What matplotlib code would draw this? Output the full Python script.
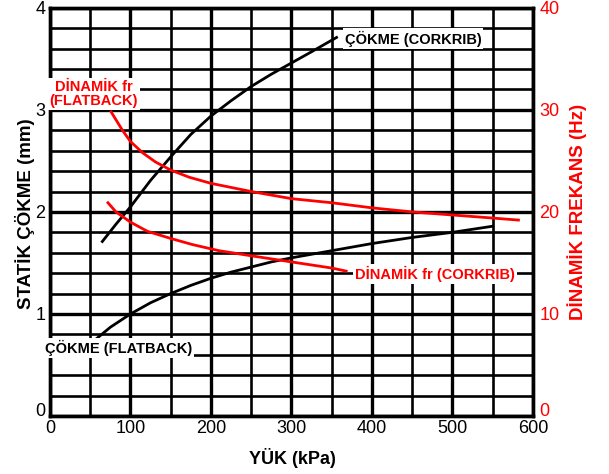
import matplotlib
matplotlib.use("Agg")
import matplotlib.pyplot as plt
import numpy as np

plt.rcParams['font.family'] = ['Liberation Sans', 'DejaVu Sans']

# yuk (kPa) ve cokme (mm) - CORKRIB
yuk_ck = [65, 82, 100, 125, 150, 175, 200, 225, 250, 275, 300, 325, 356]
cokme_ck = [1.71, 1.88, 2.05, 2.31, 2.54, 2.76, 2.94, 3.09, 3.23, 3.35, 3.46, 3.57, 3.71]

# FLATBACK cokme
yuk_fb = [52, 75, 100, 125, 150, 175, 200, 225, 250, 275, 300, 350, 400, 450, 500, 550]
cokme_fb = [0.72, 0.87, 1.00, 1.11, 1.20, 1.28, 1.35, 1.41, 1.46, 1.51, 1.55, 1.62, 1.69, 1.75, 1.80, 1.86]

# dinamik frekans (Hz) - FLATBACK
yuk_dfb = [76, 90, 100, 115, 131, 150, 173, 200, 225, 250, 300, 350, 400, 450, 500, 550, 582]
frek_fb = [29.8, 28.0, 26.9, 25.8, 24.9, 24.1, 23.4, 22.8, 22.4, 22.0, 21.3, 20.9, 20.4, 20.0, 19.7, 19.4, 19.2]

# dinamik frekans (Hz) - CORKRIB
yuk_dck = [72, 82, 100, 121, 150, 177, 210, 250, 300, 350, 368]
frek_ck = [20.9, 20.0, 19.0, 18.1, 17.4, 16.8, 16.2, 15.7, 15.1, 14.5, 14.2]

fig = plt.figure(figsize=(6.09, 4.74), dpi=100)
ax = fig.add_axes([0.0821, 0.1224, 0.793, 0.861])
ax2 = ax.twinx()

ax.set_xlim(0, 600)
ax.set_ylim(0, 4)
ax2.set_ylim(0, 40)

ax.set_xticks(np.arange(0, 601, 100))
ax.set_xticks(np.arange(0, 601, 50), minor=True)
ax.set_yticks(np.arange(0, 5, 1))
ax.set_yticks(np.arange(0, 4.01, 0.2), minor=True)
ax2.set_yticks(np.arange(0, 41, 10))

ax.grid(which='major', color='black', lw=2.4)
ax.grid(which='minor', color='black', lw=1.9)
ax.set_axisbelow(True)
for a in (ax, ax2):
    for s in a.spines.values():
        s.set_linewidth(2.4)

ax.tick_params(axis='x', which='both', length=0, labelsize=13, pad=3)
ax.tick_params(axis='y', which='both', length=0, labelsize=13, pad=3.5)
ax2.tick_params(which='both', length=0, labelsize=13, pad=4.5, labelcolor='red')

# alt "0" etiketleri cizginin ustunde
ax.yaxis.get_major_ticks()[0].label1.set_va('baseline')
ax2.yaxis.get_major_ticks()[0].label2.set_va('baseline')

ax.plot(yuk_ck, cokme_ck, color='black', lw=2)
ax.plot(yuk_fb, cokme_fb, color='black', lw=2)
ax2.plot(yuk_dfb, frek_fb, color='red', lw=2)
ax2.plot(yuk_dck, frek_ck, color='red', lw=2)

box = dict(facecolor='white', edgecolor='none', pad=1.5)
tr = ax.transData
ax2.text(366, 3.70, 'ÇÖKME (CORKRIB)', transform=tr, fontsize=10.5, fontweight='bold',
         va='center', ha='left', bbox=box, zorder=5)
ax2.text(-6, 0.667, 'ÇÖKME (FLATBACK)', transform=tr, fontsize=10.5, fontweight='bold',
         va='center', ha='left', bbox=box, zorder=5)
ax2.text(54, 3.157, 'DİNAMİK fr\n(FLATBACK)', transform=tr, fontsize=10.5, fontweight='bold',
         va='center', ha='center', color='red', bbox=box, zorder=5, linespacing=1.05)
ax2.text(379, 1.39, 'DİNAMİK fr (CORKRIB)', transform=tr, fontsize=10.5, fontweight='bold',
         va='center', ha='left', color='red', bbox=box, zorder=5)

ax.set_xlabel('YÜK (kPa)', fontsize=13, fontweight='bold')
ax.set_ylabel('STATİK ÇÖKME (mm)', fontsize=13.5, fontweight='bold')
ax2.set_ylabel('DİNAMİK FREKANS (Hz)', fontsize=13.5, fontweight='bold', color='red')
ax.xaxis.set_label_coords(0.502, -0.103)
ax.xaxis.label.set_va('center')
ax.yaxis.set_label_coords(-0.052, 0.495)
ax.yaxis.label.set_va('center')
ax2.yaxis.set_label_coords(1.091, 0.50)
ax2.yaxis.label.set_va('center')

fig.savefig('out.png', dpi=100)
